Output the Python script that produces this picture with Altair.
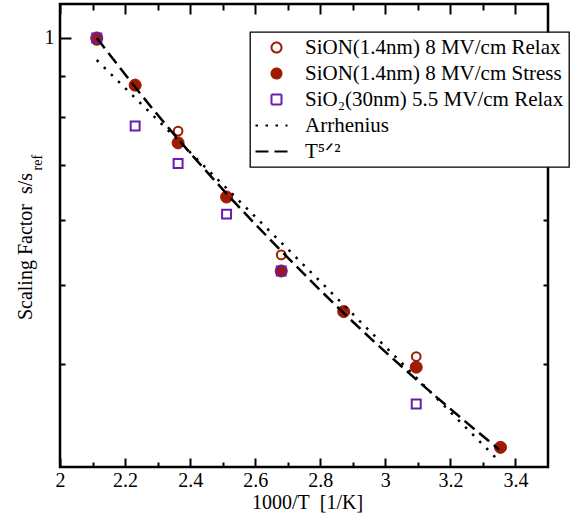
import altair as alt
import pandas as pd

# ---------------- data ----------------
RELAX = "SiON(1.4nm) 8 MV/cm Relax"
STRESS = "SiON(1.4nm) 8 MV/cm Stress"
OXIDE = "SiO\u2082(30nm) 5.5 MV/cm Relax"
ARRH = "Arrhenius"
T52 = "T\u2075\u141f\u00b2"
SERIES = [RELAX, STRESS, OXIDE, ARRH, T52]

relax_x = [2.113, 2.363, 2.680, 3.095]
relax_y = [0.993, 0.770, 0.544, 0.409]
stress_x = [2.113, 2.231, 2.363, 2.512, 2.680, 2.872, 3.095, 3.354]
stress_y = [1.000, 0.876, 0.745, 0.640, 0.520, 0.464, 0.397, 0.317]
oxide_x = [2.113, 2.231, 2.363, 2.512, 2.680, 3.095]
oxide_y = [1.000, 0.781, 0.703, 0.610, 0.520, 0.358]
arrh_x = [2.113, 2.700, 3.350]
arrh_y = [0.940, 0.553, 0.305]
t52_x = [2.113, 2.300, 2.500, 2.700, 2.900, 3.100, 3.350]
t52_y = [1.000, 0.806, 0.654, 0.540, 0.451, 0.382, 0.315]

x_major = [2.0, 2.2, 2.4, 2.6, 2.8, 3.0, 3.2, 3.4]
x_minor = [2.1, 2.3, 2.5, 2.7, 2.9, 3.1, 3.3]
y_major = [1.0]
y_minor = [0.4, 0.5, 0.6, 0.7, 0.8, 0.9]


def rows(xs, ys, name):
    return [{"x": a, "y": b, "series": name} for a, b in zip(xs, ys)]


df = pd.DataFrame(
    rows(relax_x, relax_y, RELAX)
    + rows(stress_x, stress_y, STRESS)
    + rows(oxide_x, oxide_y, OXIDE)
    + rows(arrh_x, arrh_y, ARRH)
    + rows(t52_x, t52_y, T52)
)

# ---------------- styling ----------------
FONT = "Liberation Serif"
RED = "#9e1c02"
PURPLE = "#6a1cb0"

xscale = alt.Scale(domain=[2.0, 3.5], nice=False, zero=False)
yscale = alt.Scale(type="log", domain=[0.3, 1.1], nice=False)

shape_scale = alt.Scale(domain=SERIES, range=["circle", "circle", "square", "M-4.2,0H2.2", "M-4.2,0H2.2"])
fill_scale = alt.Scale(domain=SERIES, range=["transparent", RED, "transparent", "transparent", "transparent"])
stroke_scale = alt.Scale(domain=SERIES, range=[RED, RED, PURPLE, "black", "black"])
dash_scale = alt.Scale(domain=SERIES, range=[[1, 0], [1, 0], [1, 0], [2.5, 7.5], [13, 6]])
LEG = alt.Legend(title=None)


def tick_axis(orient, values, size):
    return alt.Axis(orient=orient, values=values, labels=False, domain=False, grid=False,
                    title=None, ticks=True, tickSize={"expr": str(-size)},
                    tickWidth=2, tickColor="black")


x_lab = alt.Axis(orient="bottom", values=x_major, format="~g", ticks=False, tickSize=0,
                 domain=False, grid=False, labelFont=FONT, labelFontSize=20, labelColor="black",
                 labelPadding=3, labelFlush=False,
                 title="1000/T\u00a0\u00a0[1/K]", titleFont=FONT, titleFontSize=20,
                 titleFontWeight="normal", titleColor="black", titleX=247, titleY=41,
                 titleBaseline="alphabetic")
y_lab = alt.Axis(orient="left", values=y_major, labelExpr="'1'", ticks=False, tickSize=0,
                 domain=False, grid=False, labelFont=FONT, labelFontSize=20, labelColor="black",
                 labelPadding=6,
                 title="Scaling Factor\u00a0\u00a0s/s", titleFont=FONT, titleFontSize=20,
                 titleFontWeight="normal", titleColor="black", titleX=-29, titleY=242,
                 titleAngle=270, titleAlign="center", titleBaseline="alphabetic")
y_ref = alt.Axis(orient="left", values=y_major, labels=False, domain=False, grid=False,
                 ticks=True, tickSize={"expr": "-11"}, tickWidth=2, tickColor="black",
                 title="ref", titleFont=FONT, titleFontSize=14, titleFontWeight="normal",
                 titleColor="black", titleX=-18.5, titleY=166, titleAngle=270,
                 titleAlign="left", titleBaseline="alphabetic")

base = alt.Chart(df)


def point_layer(name, size, sw, xaxis, yaxis):
    return base.transform_filter(alt.datum.series == name).mark_point(
        size=size, strokeWidth=sw, opacity=1
    ).encode(
        x=alt.X("x:Q", scale=xscale, axis=xaxis),
        y=alt.Y("y:Q", scale=yscale, axis=yaxis),
        shape=alt.Shape("series:N", scale=shape_scale, legend=LEG),
        fill=alt.Fill("series:N", scale=fill_scale, legend=LEG),
        stroke=alt.Stroke("series:N", scale=stroke_scale, legend=LEG),
    )


def line_layer(name, xaxis, yaxis):
    return base.transform_filter(alt.datum.series == name).mark_line(
        strokeWidth=2.5, interpolate="monotone"
    ).encode(
        x=alt.X("x:Q", scale=xscale, axis=xaxis),
        y=alt.Y("y:Q", scale=yscale, axis=yaxis),
        stroke=alt.Stroke("series:N", scale=stroke_scale, legend=LEG),
        strokeDash=alt.StrokeDash("series:N", scale=dash_scale, legend=LEG),
    )


l1 = point_layer(RELAX, 76, 2, x_lab, y_lab)
l2 = point_layer(STRESS, 145, 1, tick_axis("bottom", x_major, 9), y_ref)
l3 = point_layer(OXIDE, 80, 2, tick_axis("bottom", x_minor, 5), tick_axis("left", y_minor, 5))
l4 = line_layer(ARRH, tick_axis("top", x_major, 10), tick_axis("right", y_major, 11))
l5 = line_layer(T52, tick_axis("top", x_minor, 6), tick_axis("right", y_minor, 5))

chart = (
    alt.layer(l1, l2, l3, l4, l5)
    .resolve_axis(x="independent", y="independent")
    .properties(
        width=488,
        height=463,
        autosize=alt.AutoSizeParams(type="none"),
        padding={"left": 60, "top": 4, "right": 35, "bottom": 47},
        background="white",
    )
    .configure_view(stroke="black", strokeWidth=2.5)
    .configure_legend(
        orient="none", legendX=190, legendY=28, strokeColor="black", strokeWidth=1.3,
        fillColor="white", padding=5, cornerRadius=0,
        labelFont=FONT, labelFontSize=21, labelColor="black", labelOffset=18,
        symbolSize=100, symbolStrokeWidth=2, symbolOffset=11, rowPadding=4,
        labelLimit=400,
    )
)

chart.save("out.html", embed_options={"renderer": "svg", "actions": False})
